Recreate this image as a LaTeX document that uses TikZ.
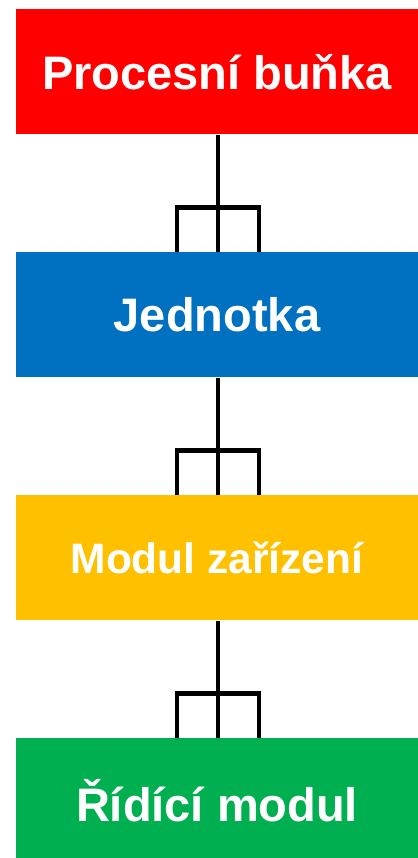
\documentclass[tikz,border=0pt]{standalone}
\usepackage{fontspec}
\setmainfont{Liberation Sans}
\usepackage{xcolor}
\usepackage{tikz}
\usetikzlibrary{positioning, calc}
\definecolor{cellred}{HTML}{FF0000}
\definecolor{unitblue}{HTML}{0070C0}
\definecolor{equipgold}{HTML}{FFC000}
\definecolor{controlgreen}{HTML}{00B050}

\begin{document}
\begin{tikzpicture}[x=1pt, y=-1pt]
  \useasboundingbox (0,0) rectangle (417,858);

  % Level boxes
  \tikzset{
    level box/.style={rectangle, inner sep=0pt, minimum width=402pt, minimum height=125.5pt,
      text=white, font=\fontsize{47}{47}\selectfont\bfseries},
    link line/.style={black, line width=4.5pt}
  }

  \node[level box, fill=cellred] (cell) at (217, 71.75) {Procesní buňka};
  \node[level box, fill=unitblue, below=117pt of cell] (unit) {Jednotka};
  \node[level box, fill=equipgold, below=117pt of unit, font=\fontsize{42.5}{42.5}\selectfont\bfseries] (equip) {Modul zařízení};
  \node[level box, fill=controlgreen, below=117pt of equip] (control) {Řídící modul};

  % One-to-many links between levels
  \foreach \upper/\lower in {cell/unit, unit/equip, equip/control} {
    \draw[link line] ([xshift=1pt]\upper.south) -- ([xshift=1pt]\lower.north);
    \draw[link line] ([xshift=-40pt]\lower.north) |- ([xshift=1pt, yshift=44pt]\lower.north)
      -| ([xshift=42pt]\lower.north);
  }
\end{tikzpicture}
\end{document}
